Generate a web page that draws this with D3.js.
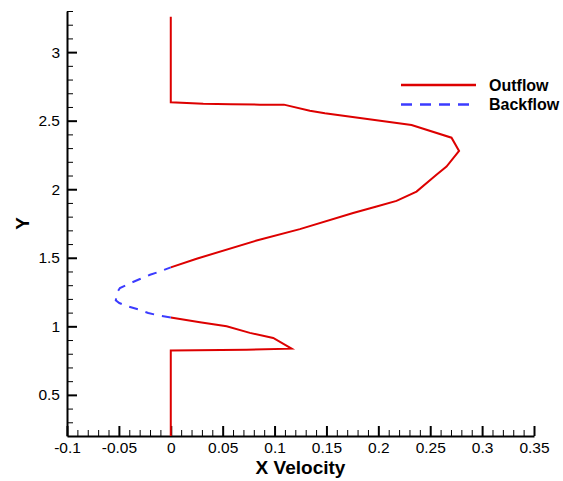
<!DOCTYPE html>
<html>
<head>
<meta charset="utf-8">
<script src="https://cdn.jsdelivr.net/npm/d3@7"></script>
<style>
  body { margin: 0; background: #fff; }
  svg { display: block; font-family: "Liberation Sans", Arial, sans-serif; }
  .axis path, .axis line { stroke: #000; }
  .axis text { fill: #000; font-size: 15.5px; }
</style>
</head>
<body>
<svg width="563" height="481"></svg>
<script>
// velocity profile, [x velocity, y]
const outflowLower = [
  [0, 0.2], [0, 0.823], [0.073, 0.83], [0.1164, 0.837], [0.0987, 0.915],
  [0.0762, 0.952], [0.0538, 1.0], [0.0281, 1.029], [0, 1.065]
];
const backflow = [
  [0, 1.065], [-0.012, 1.08], [-0.0217, 1.097], [-0.0304, 1.121], [-0.041, 1.145],
  [-0.0496, 1.17], [-0.053, 1.19], [-0.0515, 1.25], [-0.049, 1.279], [-0.0387, 1.316],
  [-0.0297, 1.345], [-0.02, 1.376], [-0.0104, 1.4], [0, 1.43]
];
const outflowUpper = [
  [0, 1.43], [0.0249, 1.493], [0.0827, 1.626], [0.1244, 1.709], [0.1757, 1.826],
  [0.1983, 1.874], [0.2175, 1.915], [0.2368, 1.983], [0.256, 2.105], [0.2657, 2.165],
  [0.2778, 2.279], [0.2705, 2.376], [0.232, 2.469], [0.1485, 2.554], [0.134, 2.573],
  [0.109, 2.617], [0.0859, 2.617], [0.0579, 2.62], [0.0313, 2.624], [0, 2.634], [0, 3.258]
];

const xTicks = [-0.1, -0.05, 0, 0.05, 0.1, 0.15, 0.2, 0.25, 0.3, 0.35];
const xTickLabels = ["-0.1", "-0.05", "0", "0.05", "0.1", "0.15", "0.2", "0.25", "0.3", "0.35"];
const yTicks = [0.5, 1, 1.5, 2, 2.5, 3];
const yTickLabels = ["0.5", "1", "1.5", "2", "2.5", "3"];

const seriesNames = ["Outflow", "Backflow"];
const seriesColors = ["#dd0000", "#3b3bff"];

const svg = d3.select("svg");
const mLeft = 67, mRight = 534, mTop = 11, mBottom = 436;

const x = d3.scaleLinear().domain([-0.1, 0.35]).range([mLeft, mRight]);
const y = d3.scaleLinear().domain([0.2, 3.3]).range([mBottom, mTop]);

const xMinor = d3.range(-0.1, 0.351, 0.01).map(v => +v.toFixed(2)).filter(v => !xTicks.includes(v));
const yMinor = d3.range(0.3, 3.31, 0.1).map(v => +v.toFixed(1)).filter(v => !yTicks.includes(v));

// minor ticks
svg.append("g").attr("class", "axis minor")
  .attr("transform", `translate(0,${mBottom})`)
  .call(d3.axisBottom(x).tickValues(xMinor).tickSize(-6).tickSizeOuter(0).tickFormat(""))
  .call(g => g.select(".domain").remove())
  .call(g => g.selectAll("line").attr("stroke-width", 1));
svg.append("g").attr("class", "axis minor")
  .attr("transform", `translate(${mLeft},0)`)
  .call(d3.axisLeft(y).tickValues(yMinor).tickSize(-6).tickSizeOuter(0).tickFormat(""))
  .call(g => g.select(".domain").remove())
  .call(g => g.selectAll("line").attr("stroke-width", 1));

// major ticks
svg.append("g").attr("class", "axis")
  .attr("transform", `translate(0,${mBottom})`)
  .call(d3.axisBottom(x).tickValues(xTicks).tickSize(-10).tickSizeOuter(0).tickPadding(6)
    .tickFormat((d, i) => xTickLabels[i]))
  .call(g => g.select(".domain").attr("stroke-width", 2))
  .call(g => g.selectAll("line").attr("stroke-width", 2));
svg.append("g").attr("class", "axis")
  .attr("transform", `translate(${mLeft},0)`)
  .call(d3.axisLeft(y).tickValues(yTicks).tickSize(-10).tickSizeOuter(0).tickPadding(7)
    .tickFormat((d, i) => yTickLabels[i]))
  .call(g => g.select(".domain").attr("stroke-width", 2))
  .call(g => g.selectAll("line").attr("stroke-width", 2));

// axis titles
svg.append("text")
  .attr("x", (mLeft + mRight) / 2).attr("y", 474)
  .attr("text-anchor", "middle")
  .attr("font-size", 19).attr("font-weight", "bold")
  .text("X Velocity");
svg.append("text")
  .attr("transform", `translate(29,${(mTop + mBottom) / 2}) rotate(-90)`)
  .attr("text-anchor", "middle")
  .attr("font-size", 19).attr("font-weight", "bold")
  .text("Y");

const line = d3.line().x(d => x(d[0])).y(d => y(d[1]));

[outflowLower, outflowUpper].forEach(seg => {
  svg.append("path").datum(seg)
    .attr("d", line)
    .attr("fill", "none")
    .attr("stroke", seriesColors[0])
    .attr("stroke-width", 2);
});
svg.append("path").datum(backflow)
  .attr("d", line)
  .attr("fill", "none")
  .attr("stroke", seriesColors[1])
  .attr("stroke-width", 2)
  .attr("stroke-dasharray", "9,8");

// legend
const legend = svg.append("g").attr("transform", "translate(401,85)");
seriesNames.forEach((name, i) => {
  const row = legend.append("g").attr("transform", `translate(0,${i * 19.5})`);
  row.append("line")
    .attr("x1", 0).attr("x2", 75)
    .attr("stroke", seriesColors[i])
    .attr("stroke-width", 2.5)
    .attr("stroke-dasharray", i === 1 ? "11,8" : null);
  row.append("text")
    .attr("x", 88).attr("y", 5.5)
    .attr("font-size", 16).attr("font-weight", "bold")
    .text(name);
});
</script>
</body>
</html>
